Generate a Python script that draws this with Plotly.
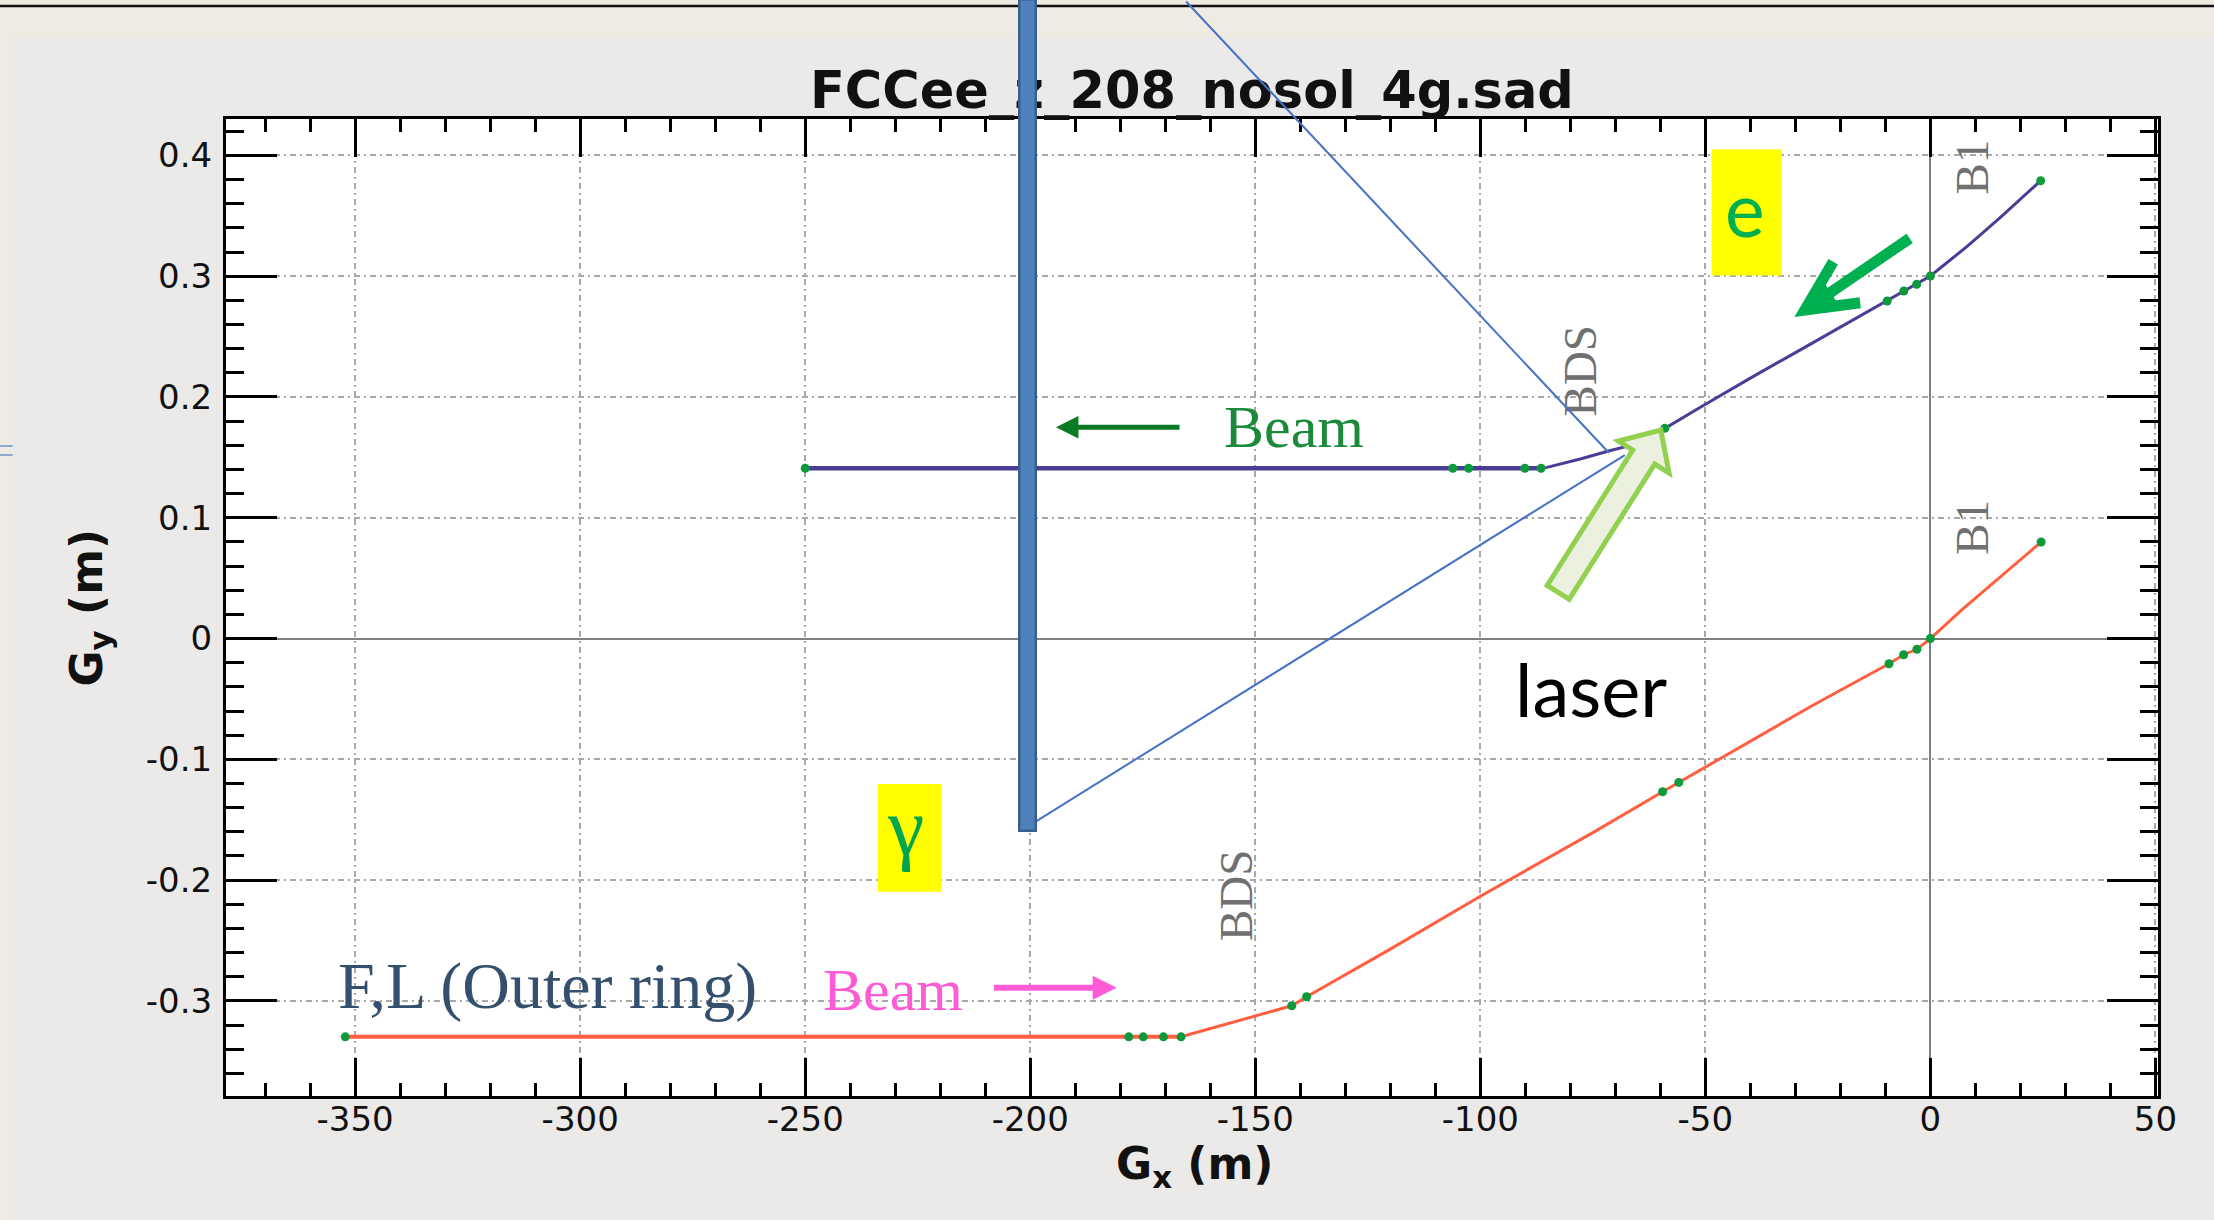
import math
import plotly.graph_objects as go

# ---------------------------------------------------------------- data
# Beam orbit of the inner (e) line: G_x [m], G_y [m]
e_orbit_x = [-250, -106.1, -102.6, -90.1, -86.5, -85.2, -77.8, -71.3, -64.9, -59.0,
             -51.2, -40.1, -29.0, -17.9, -9.6, -5.9, -3.05, 0.0, 8.1, 15.5, 24.5]
e_orbit_y = [0.141, 0.141, 0.141, 0.141, 0.141, 0.1417, 0.1486, 0.1555, 0.1616, 0.174,
             0.1912, 0.2154, 0.2388, 0.2623, 0.2794, 0.2877, 0.2932, 0.3001, 0.3245, 0.3485, 0.379]
# element markers on the e line
e_elem_x = [-250, -106.1, -102.6, -90.1, -86.5, -59.0, -9.6, -5.9, -3.05, 0.0, 24.5]
e_elem_y = [0.141, 0.141, 0.141, 0.141, 0.141, 0.174, 0.2794, 0.2877, 0.2932, 0.3001, 0.379]

# Beam orbit of the outer ring line
outer_orbit_x = [-352.2, -178.1, -174.9, -170.4, -166.5, -158.6, -149.7, -141.9, -138.6,
                 -128.9, -120.2, -99.9, -74.7, -59.5, -55.9, -26.0, -9.2, -5.95, -3.0,
                 0.0, 6.9, 24.6]
outer_orbit_y = [-0.3297, -0.3297, -0.3297, -0.3297, -0.3297, -0.3214, -0.3125, -0.304,
                 -0.2965, -0.2758, -0.2575, -0.2132, -0.160, -0.1268, -0.1191, -0.055,
                 -0.0209, -0.0134, -0.0089, 0.0, 0.0236, 0.0799]
outer_elem_x = [-352.2, -178.1, -174.9, -170.4, -166.5, -141.9, -138.6, -59.5, -55.9,
                -9.2, -5.95, -3.0, 0.0, 24.6]
outer_elem_y = [-0.3297, -0.3297, -0.3297, -0.3297, -0.3297, -0.304, -0.2965, -0.1268,
                -0.1191, -0.0209, -0.0134, -0.0089, 0.0, 0.0799]

x_tick_vals = [-350, -300, -250, -200, -150, -100, -50, 0, 50]
x_tick_text = ["-350", "-300", "-250", "-200", "-150", "-100", "-50", "0", "50"]
y_tick_vals = [-0.3, -0.2, -0.1, 0, 0.1, 0.2, 0.3, 0.4]
y_tick_text = ["-0.3", "-0.2", "-0.1", "0", "0.1", "0.2", "0.3", "0.4"]

# ---------------------------------------------------------------- geometry
W, H = 2214, 1220
M_L, M_R, M_T, M_B = 226, 56, 119, 124
PLOT_W = W - M_L - M_R
PLOT_H = H - M_T - M_B
X_RANGE = [-378.7, 50.57]
Y_RANGE = [-0.3787, 0.4301]


def data_to_px(x, y):
    px = M_L + (x - X_RANGE[0]) / (X_RANGE[1] - X_RANGE[0]) * PLOT_W
    py = M_T + (Y_RANGE[1] - y) / (Y_RANGE[1] - Y_RANGE[0]) * PLOT_H
    return px, py


def px_to_data(px, py):
    x = X_RANGE[0] + (px - M_L) / PLOT_W * (X_RANGE[1] - X_RANGE[0])
    y = Y_RANGE[1] - (py - M_T) / PLOT_H * (Y_RANGE[1] - Y_RANGE[0])
    return x, y


def px_to_paper(px, py):
    return (px - M_L) / PLOT_W, (H - M_B - py) / PLOT_H


SERIF = "Liberation Serif"
SANS = "DejaVu Sans"
SLIDE = "Lato"

fig = go.Figure()

# straight injection part drawn heavier than the bent BDS part, as in the SAD output
N_E_FLAT = 5
N_OUT_FLAT = 5
fig.add_trace(go.Scatter(x=e_orbit_x[:N_E_FLAT], y=e_orbit_y[:N_E_FLAT], mode="lines",
                         line=dict(color="#4B3D96", width=4.5), hoverinfo="skip"))
fig.add_trace(go.Scatter(x=e_orbit_x[N_E_FLAT - 1:], y=e_orbit_y[N_E_FLAT - 1:], mode="lines",
                         line=dict(color="#4B3D96", width=3), hoverinfo="skip"))
fig.add_trace(go.Scatter(x=outer_orbit_x[:N_OUT_FLAT], y=outer_orbit_y[:N_OUT_FLAT], mode="lines",
                         line=dict(color="#FF5F3F", width=4), hoverinfo="skip"))
fig.add_trace(go.Scatter(x=outer_orbit_x[N_OUT_FLAT - 1:], y=outer_orbit_y[N_OUT_FLAT - 1:],
                         mode="lines", line=dict(color="#FF5F3F", width=3), hoverinfo="skip"))
fig.add_trace(go.Scatter(x=e_elem_x + outer_elem_x, y=e_elem_y + outer_elem_y,
                         mode="markers", marker=dict(color="#0E9A3C", size=9),
                         hoverinfo="skip"))

shapes = []
annotations = []

# slide background strips around the ROOT canvas
x0p, _ = px_to_paper(0, 0)
x1p, _ = px_to_paper(W, 0)
_, ytop = px_to_paper(0, 0)
_, ystrip = px_to_paper(0, 37)
_, ybot = px_to_paper(0, H)
xl, _ = px_to_paper(12.7, 0)
shapes.append(dict(type="rect", xref="paper", yref="paper", x0=x0p, x1=x1p, y0=ystrip, y1=ytop,
                   fillcolor="#EFEBE3", line=dict(width=0), layer="below"))
shapes.append(dict(type="rect", xref="paper", yref="paper", x0=x0p, x1=xl, y0=ybot, y1=ytop,
                   fillcolor="#EFEBE3", line=dict(width=0), layer="below"))
_, yline = px_to_paper(0, 6)
shapes.append(dict(type="line", xref="paper", yref="paper", x0=x0p, x1=x1p, y0=yline, y1=yline,
                   line=dict(color="#111111", width=2.5), layer="below"))
for py in (446, 455):
    _, yy = px_to_paper(0, py)
    shapes.append(dict(type="line", xref="paper", yref="paper", x0=x0p, x1=xl, y0=yy, y1=yy,
                       line=dict(color="#8EAAD0", width=2), layer="below"))

# yellow label boxes
shapes.append(dict(type="rect", xref="x", yref="y", x0=-48.6, x1=-33.0, y0=0.3005, y1=0.405,
                   fillcolor="#FFFF00", line=dict(width=0), layer="above"))
shapes.append(dict(type="rect", xref="x", yref="y", x0=-233.9, x1=-219.8, y0=-0.2096, y1=-0.1205,
                   fillcolor="#FFFF00", line=dict(width=0), layer="above"))

# lower laser ray, from the mirror foot to the interaction point
shapes.append(dict(type="line", xref="x", yref="y", x0=-198.9, y0=-0.1517, x1=-67.9, y1=0.1519,
                   line=dict(color="#4472C4", width=2), layer="above"))

# block arrow marking the laser
LASER_TIP = (-59.9, 0.1726)
LASER_TAIL = (-82.7, 0.0382)
tx, ty = data_to_px(*LASER_TIP)
sx, sy = data_to_px(*LASER_TAIL)
L = math.hypot(tx - sx, ty - sy)
ux, uy = (tx - sx) / L, (ty - sy) / L
nx, ny = -uy, ux
head_len, head_half, shaft_half = 32, 30, 13
bx, by = tx - head_len * ux, ty - head_len * uy
pts_px = [(tx, ty),
          (bx + head_half * nx, by + head_half * ny),
          (bx + shaft_half * nx, by + shaft_half * ny),
          (sx + shaft_half * nx, sy + shaft_half * ny),
          (sx - shaft_half * nx, sy - shaft_half * ny),
          (bx - shaft_half * nx, by - shaft_half * ny),
          (bx - head_half * nx, by - head_half * ny)]
pts = [px_to_data(*p) for p in pts_px]
path = "M " + " L ".join(f"{x:.3f},{y:.5f}" for x, y in pts) + " Z"
shapes.append(dict(type="path", xref="x", yref="y", path=path, fillcolor="#EBF1DE",
                   line=dict(color="#92D050", width=5), layer="above"))

# thick green arrow pointing at the e line
E_TAIL, E_TIP = (-4.6, 0.3313), (-27.9, 0.2720)
E_ARM1, E_ARM2 = (-21.6, 0.312), (-15.6, 0.278)
shapes.append(dict(type="path", xref="x", yref="y",
                   path=(f"M {E_TAIL[0]},{E_TAIL[1]} L {E_TIP[0]},{E_TIP[1]} "
                         f"M {E_ARM1[0]},{E_ARM1[1]} L {E_TIP[0]},{E_TIP[1]} L {E_ARM2[0]},{E_ARM2[1]}"),
                   line=dict(color="#00B050", width=11), layer="above"))
m1 = (E_TIP[0] + 0.6 * (E_ARM1[0] - E_TIP[0]), E_TIP[1] + 0.6 * (E_ARM1[1] - E_TIP[1]))
m2 = (E_TIP[0] + 0.6 * (E_ARM2[0] - E_TIP[0]), E_TIP[1] + 0.6 * (E_ARM2[1] - E_TIP[1]))
shapes.append(dict(type="path", xref="x", yref="y",
                   path=f"M {E_TIP[0]},{E_TIP[1]} L {m1[0]},{m1[1]} L {m2[0]},{m2[1]} Z",
                   fillcolor="#00B050", line=dict(color="#00B050", width=2), layer="above"))


def label(text, x, y, size, color, family, angle=0, **kw):
    d = dict(text=text, x=x, y=y, xref="x", yref="y", showarrow=False, textangle=angle,
             font=dict(family=family, size=size, color=color),
             xanchor="center", yanchor="middle")
    d.update(kw)
    annotations.append(d)


# chart title (drawn as annotation so the mirror bar can sit over it)
_, tpy = px_to_paper(0, 90)
annotations.append(dict(text="<b>FCCee_z_208_nosol_4g.sad</b>", xref="paper", yref="paper",
                        x=0.5, y=tpy, showarrow=False, xanchor="center", yanchor="middle",
                        font=dict(family=SANS, size=51, color="#111111")))
# axis titles
gxp, gyp = px_to_paper(1194, 1166)
annotations.append(dict(text="<b>G<sub>x</sub> (m)</b>", xref="paper", yref="paper",
                        x=gxp, y=gyp, showarrow=False, xanchor="center", yanchor="middle",
                        font=dict(family=SANS, size=44, color="#111111")))
gxp, gyp = px_to_paper(88.5, 608)
annotations.append(dict(text="<b>G<sub>y</sub> (m)</b>", xref="paper", yref="paper",
                        x=gxp, y=gyp, showarrow=False, xanchor="center", yanchor="middle",
                        textangle=-90, font=dict(family=SANS, size=44, color="#111111")))

# section labels
label("BDS", -77.9, 0.2218, 47, "#707070", SERIF, angle=-90)
label("BDS", -154.3, -0.2124, 47, "#707070", SERIF, angle=-90)
label("B1", 9.2, 0.3906, 47, "#707070", SERIF, angle=-90)
label("B1", 9.2, 0.0923, 47, "#707070", SERIF, angle=-90)

label("Beam", -141.5, 0.1753, 60, "#1B8A3B", SERIF)
label("Beam", -230.5, -0.2906, 60, "#FF5BD6", SERIF)
label("F,L (Outer ring)", -307.3, -0.2877, 66, "#34506E", SERIF)

label("e", -41.2, 0.3567, 75, "#00B050", SLIDE)
label("γ", -227.7, -0.1558, 82, "#00A550", SERIF)
label("laser", -75.5, -0.0413, 74, "#000000", SLIDE)

# beam direction arrows
annotations.append(dict(text="", x=-194.3, y=0.1749, ax=-166.5, ay=0.1749, xref="x", yref="y",
                        axref="x", ayref="y", showarrow=True, arrowhead=2, arrowsize=0.9,
                        arrowwidth=5, arrowcolor="#0B7A25", standoff=0, startstandoff=0))
annotations.append(dict(text="", x=-180.8, y=-0.2891, ax=-208.4, ay=-0.2891, xref="x", yref="y",
                        axref="x", ayref="y", showarrow=True, arrowhead=2, arrowsize=0.8,
                        arrowwidth=6, arrowcolor="#FF5BD6", standoff=0, startstandoff=0))

# upper laser ray, entering from above the canvas
HEAD = (-71.4, 0.1536)
hx, hy = data_to_px(*HEAD)
annotations.append(dict(text="", x=HEAD[0], y=HEAD[1], xref="x", yref="y",
                        ax=1184.7 - hx, ay=0.0 - hy, axref="pixel", ayref="pixel",
                        showarrow=True, arrowhead=0, arrowwidth=2, arrowcolor="#4472C4",
                        standoff=0, startstandoff=0))

# vertical mirror bar
BAR_X = -200.6
BAR_BOTTOM = -0.16
bar_px, bar_bottom_py = data_to_px(BAR_X, BAR_BOTTOM)
bpx, bpy = px_to_paper(bar_px, bar_bottom_py)
annotations.append(dict(text=" ", xref="paper", yref="paper", x=bpx, y=bpy,
                        xanchor="center", yanchor="bottom", showarrow=False,
                        width=14, height=bar_bottom_py - 3, borderpad=0, borderwidth=2.5,
                        bgcolor="#4F81BD", bordercolor="#3A5F8E",
                        font=dict(size=4, color="#4F81BD")))

axis_common = dict(
    ticks="inside", tickwidth=3, tickcolor="black",
    showline=True, linecolor="black", linewidth=3, mirror="ticks",
    showgrid=True, gridcolor="#A9A9A9", gridwidth=1.5, griddash="6px,4px,2px,4px",
    zeroline=True, zerolinecolor="#7F7F7F", zerolinewidth=2,
    tickfont=dict(family=SANS, size=34, color="#111111"),
    tickmode="array",
)

fig.update_layout(
    width=W, height=H,
    margin=dict(l=M_L, r=M_R, t=M_T, b=M_B, pad=0),
    paper_bgcolor="#EBEAE8", plot_bgcolor="white",
    showlegend=False,
    xaxis=dict(range=X_RANGE, tickvals=x_tick_vals, ticktext=x_tick_text, ticklen=38,
               ticklabelstandoff=-9,
               minor=dict(ticks="inside", ticklen=13, tickwidth=2.5, tickcolor="black",
                          dtick=10, tick0=0, showgrid=False),
               **axis_common),
    yaxis=dict(range=Y_RANGE, tickvals=y_tick_vals, ticktext=y_tick_text, ticklen=51,
               ticklabelstandoff=4,
               minor=dict(ticks="inside", ticklen=18, tickwidth=2.5, tickcolor="black",
                          dtick=0.02, tick0=0, showgrid=False),
               **axis_common),
    shapes=shapes,
    annotations=annotations,
)

fig.write_html("out.html")
